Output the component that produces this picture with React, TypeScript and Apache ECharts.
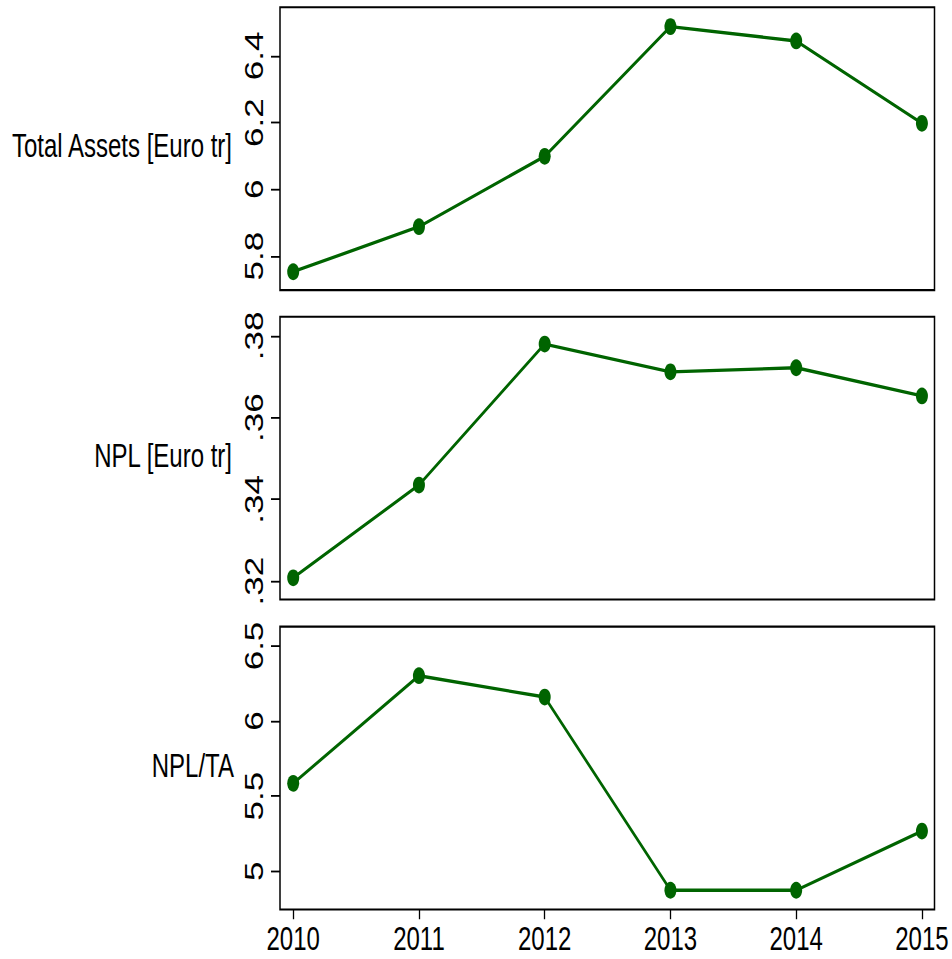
import React, { useEffect, useRef } from "react";
import * as echarts from "echarts";

// ---- data ----
const years = [2010, 2011, 2012, 2013, 2014, 2015];
const totalAssets = [5.753, 5.888, 6.099, 6.488, 6.445, 6.198];
const npl = [0.3208, 0.3435, 0.378, 0.3712, 0.3722, 0.3653];
const nplRatio = [5.585, 6.302, 6.16, 4.873, 4.873, 5.267];

const taTicks = [5.8, 6.0, 6.2, 6.4];
const nplTicks = [0.32, 0.34, 0.36, 0.38];
const ratioTicks = [5, 5.5, 6, 6.5];
const yearTicks = [2010, 2011, 2012, 2013, 2014, 2015];

const titles = ["Total Assets [Euro tr]", "NPL [Euro tr]", "NPL/TA"];

// axis extents
const yRanges: [number, number][] = [
  [5.698, 6.546],
  [0.3155, 0.3847],
  [4.745, 6.629],
];
const xRange: [number, number] = [2009.895, 2015.1];

// ---- layout ----
const W = 952;
const H = 959;
const STRETCH = 1.4;
const CH = H / STRETCH;
const GRID_LEFT = 280;
const GRID_RIGHT = 17.5;
const GRID_TOPS = [5.2, 226.2, 447.6];
const GRID_H = 202;
const TITLE_RIGHT = [232, 232, 234];
const GREEN = "#006400";
const FONT = "'Liberation Sans', Arial, Helvetica, sans-serif";

const fmt = (v: number) => String(Number(v.toFixed(4))).replace(/^0\./, ".");

export default function App() {
  const ref = useRef<HTMLDivElement>(null);
  useEffect(() => {
    if (!ref.current) return;
    const chart = echarts.init(ref.current, null, { renderer: "svg" });
    const seriesVals = [totalAssets, npl, nplRatio];
    const tickSets = [taTicks, nplTicks, ratioTicks];
    const option: any = {
      animation: false,
      backgroundColor: "#fff",
      grid: GRID_TOPS.map((t) => ({
        left: GRID_LEFT,
        right: GRID_RIGHT,
        top: t,
        height: GRID_H,
        show: true,
        borderColor: "#000",
        borderWidth: 1.5,
        backgroundColor: "#fff",
        containLabel: false,
      })),
      xAxis: [0, 1, 2].map((i) => ({
        type: "value",
        gridIndex: i,
        min: xRange[0],
        max: xRange[1],
        axisLine: { show: false },
        splitLine: { show: false },
        axisTick: {
          show: i === 2,
          customValues: yearTicks,
          length: 7,
          lineStyle: { color: "#000", width: 1.3 },
        },
        axisLabel: {
          show: i === 2,
          customValues: yearTicks,
          margin: 9,
          color: "#000",
          fontSize: 24,
          fontFamily: FONT,
          formatter: (v: number) => String(v),
        },
      })),
      yAxis: [0, 1, 2].map((i) => ({
        type: "value",
        gridIndex: i,
        min: yRanges[i][0],
        max: yRanges[i][1],
        axisLine: { show: false },
        splitLine: { show: false },
        axisTick: {
          show: true,
          customValues: tickSets[i],
          length: 9,
          lineStyle: { color: "#000", width: 1.3 },
        },
        axisLabel: {
          show: true,
          customValues: tickSets[i],
          rotate: 90,
          margin: 14,
          color: "#000",
          fontSize: 25,
          fontFamily: FONT,
          formatter: (v: number) => fmt(v),
        },
      })),
      series: [0, 1, 2].map((i) => ({
        type: "line",
        xAxisIndex: i,
        yAxisIndex: i,
        data: years.map((y, k) => [y, seriesVals[i][k]]),
        symbol: "circle",
        symbolSize: 12,
        showSymbol: true,
        lineStyle: { color: GREEN, width: 2.4 },
        itemStyle: { color: GREEN },
        z: 3,
      })),
      graphic: titles.map((t, i) => ({
        type: "text",
        x: TITLE_RIGHT[i],
        y: GRID_TOPS[i] + GRID_H / 2 - 2,
        style: {
          text: t,
          fill: "#000",
          font: `24px ${FONT}`,
          textAlign: "right",
          textVerticalAlign: "middle",
          verticalAlign: "middle",
        },
      })),
    };
    chart.setOption(option);
    return () => chart.dispose();
  }, []);
  return (
    <div
      style={{
        position: "fixed",
        left: 0,
        top: 0,
        width: W,
        height: H,
        overflow: "hidden",
        background: "#fff",
      }}
    >
      <div
        ref={ref}
        style={{
          position: "absolute",
          left: 0,
          top: 0,
          width: W,
          height: CH,
          transform: `scaleY(${STRETCH})`,
          transformOrigin: "0 0",
        }}
      />
    </div>
  );
}
